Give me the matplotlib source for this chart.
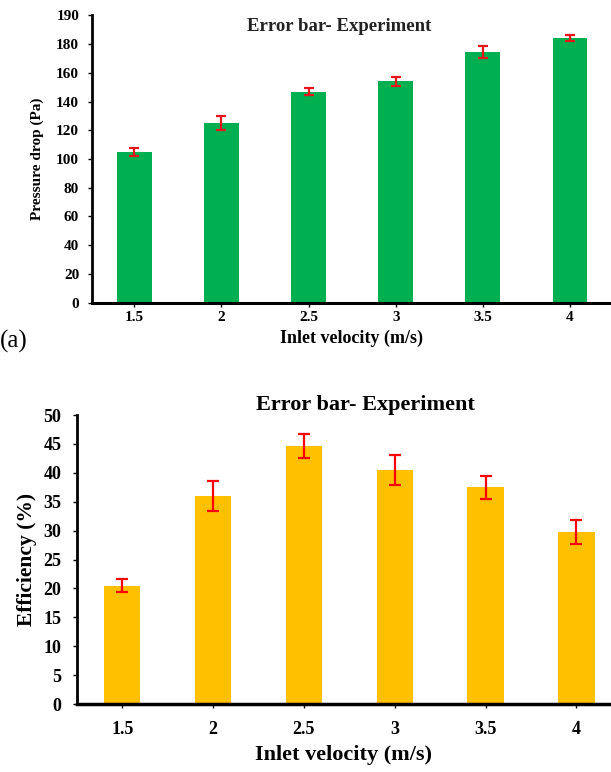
import matplotlib.pyplot as plt

# Data
velocity = ["1.5", "2", "2.5", "3", "3.5", "4"]

pressure_drop = [105, 125, 147, 154, 174.5, 184.5]
pressure_err = [2.7, 4.9, 2.2, 3.0, 4.0, 2.0]
pressure_ticks = [0, 20, 40, 60, 80, 100, 120, 140, 160, 180, 200]
pressure_ticklabels = ["0", "20", "40", "60", "80", "100", "120", "140", "160", "180", "190"]

efficiency = [20.5, 36.0, 44.6, 40.5, 37.5, 29.8]
efficiency_err = [1.15, 2.55, 2.1, 2.6, 2.0, 2.1]
efficiency_ticks = [0, 5, 10, 15, 20, 25, 30, 35, 40, 45, 50]

plt.rcParams["font.family"] = ["Liberation Serif", "DejaVu Serif"]

fig = plt.figure(figsize=(6.11, 7.72), dpi=100)

# --- (a) pressure drop ---
ax1 = fig.add_axes([0.150, 0.608, 0.850, 0.372])
x = range(len(velocity))
ax1.bar(x, pressure_drop, width=0.4, color="#00B050", zorder=2)
ax1.errorbar(x, pressure_drop, yerr=pressure_err, fmt="none", ecolor="#E8151B",
             elinewidth=1.6, capsize=3.5, capthick=1.6, zorder=3)
ax1.set_xlim(-0.49, 5.47)
ax1.set_ylim(0, 200)
ax1.set_yticks(pressure_ticks)
ax1.set_yticklabels(pressure_ticklabels, fontsize=11, fontweight="bold")
ax1.set_xticks(list(x))
ax1.set_xticklabels(velocity, fontsize=11, fontweight="bold")
ax1.set_ylabel("Pressure drop (Pa)", fontsize=11, fontweight="bold", labelpad=9)
ax1.set_xlabel("Inlet velocity (m/s)", fontsize=13, fontweight="bold", labelpad=4)
ax1.text(0.476, 0.961, "Error bar- Experiment", transform=ax1.transAxes,
         ha="center", va="center", fontsize=13.5, fontweight="bold", color="#222222")
for s in ["top", "right"]:
    ax1.spines[s].set_visible(False)
ax1.spines["left"].set_linewidth(2)
ax1.spines["bottom"].set_linewidth(2.2)
ax1.tick_params(axis="both", direction="out", length=3, width=1, pad=3)
ax1.tick_params(axis="y", pad=6)
fig.text(0.0, 0.558, "(a)", fontsize=18, ha="left", va="center")

# --- (b) efficiency ---
ax2 = fig.add_axes([0.1257, 0.088, 0.8743, 0.3744])
ax2.bar(x, efficiency, width=0.4, color="#FFC000", zorder=2)
ax2.errorbar(x, efficiency, yerr=efficiency_err, fmt="none", ecolor="#FF0000",
             elinewidth=1.6, capsize=4, capthick=1.6, zorder=3)
ax2.set_xlim(-0.5, 5.38)
ax2.set_ylim(0, 50)
ax2.set_yticks(efficiency_ticks)
ax2.set_yticklabels([str(t) for t in efficiency_ticks], fontsize=13, fontweight="bold")
ax2.set_xticks(list(x))
ax2.set_xticklabels(velocity, fontsize=13, fontweight="bold")
ax2.set_ylabel("Efficiency (%)", fontsize=15.5, fontweight="bold", labelpad=5)
ax2.set_title("Error bar- Experiment", fontsize=16, fontweight="bold", x=0.54, pad=3)
ax2.set_xlabel("Inlet velocity (m/s)", fontsize=16, fontweight="bold", labelpad=5)
for s in ["top", "right"]:
    ax2.spines[s].set_visible(False)
ax2.spines["left"].set_linewidth(2)
ax2.spines["bottom"].set_linewidth(2.5)
ax2.tick_params(axis="both", direction="out", length=3, width=1)
ax2.tick_params(axis="y", pad=8)
ax2.tick_params(axis="x", pad=9)

plt.savefig("out.png", dpi=100)
